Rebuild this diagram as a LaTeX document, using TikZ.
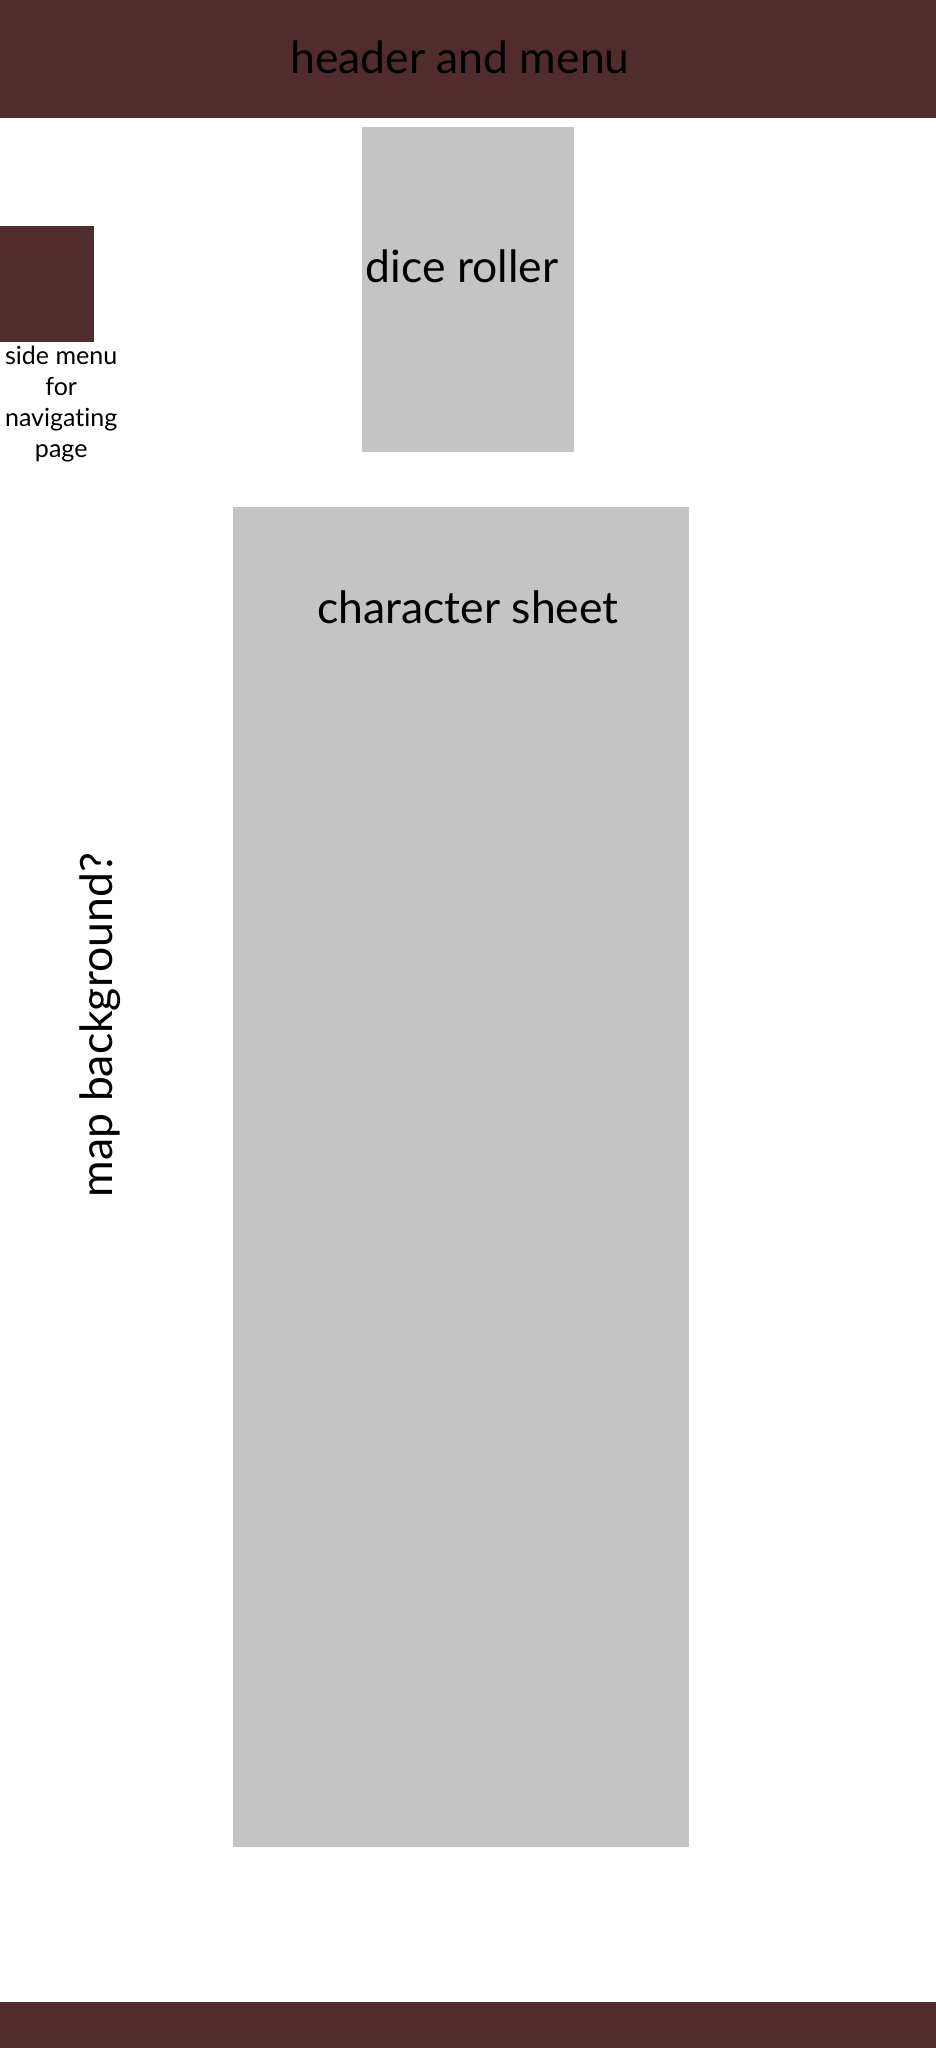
\documentclass[tikz,border=0pt]{standalone}
\usepackage{fontspec}
\setmainfont{Lato}[Ligatures={NoCommon}]
\usepackage{tikz}
\usetikzlibrary{positioning}
\definecolor{barcolor}{RGB}{81,44,44}
\definecolor{panelcolor}{RGB}{196,196,196}

\begin{document}
\begin{tikzpicture}[
    x=1pt, y=-1pt,
    bar/.style={fill=barcolor, draw=none, inner sep=0pt, anchor=north west},
    panel/.style={fill=panelcolor, draw=none, inner sep=0pt, anchor=north west},
    lbl/.style={inner sep=0pt, anchor=base, font=\fontsize{44.5}{52}\selectfont},
]
    \useasboundingbox[fill=white] (0,0) rectangle (936,2048);
    % Header
    \node[bar, minimum width=936pt, minimum height=118pt] (header) at (0,0) {};
    \node[lbl] (headertext) at (460,73) {header and menu};
    % Dice roller
    \node[panel, minimum width=212pt, minimum height=325pt] (dice) at (362,127) {};
    \node[lbl] (dicetext) at (462,282) {dice roller};
    % Side menu
    \node[bar, minimum width=94pt, minimum height=116pt] (side) at (0,226) {};
    \node[inner sep=0pt, anchor=north, align=center, font=\fontsize{25}{31}\selectfont,
        below=3pt of side.south, xshift=14pt] (sidetext) {side menu\\for\\navigating\\page};
    % Character sheet
    \node[panel, minimum width=456pt, minimum height=1340pt] (sheet) at (233,507) {};
    \node[lbl] (sheettext) at (468,623) {character sheet};
    % Map background
    \node[lbl, rotate=90] (maptext) at (112,1025) {map background?};
    % Footer
    \node[bar, minimum width=936pt, minimum height=46pt] (footer) at (0,2002) {};
\end{tikzpicture}
\end{document}
